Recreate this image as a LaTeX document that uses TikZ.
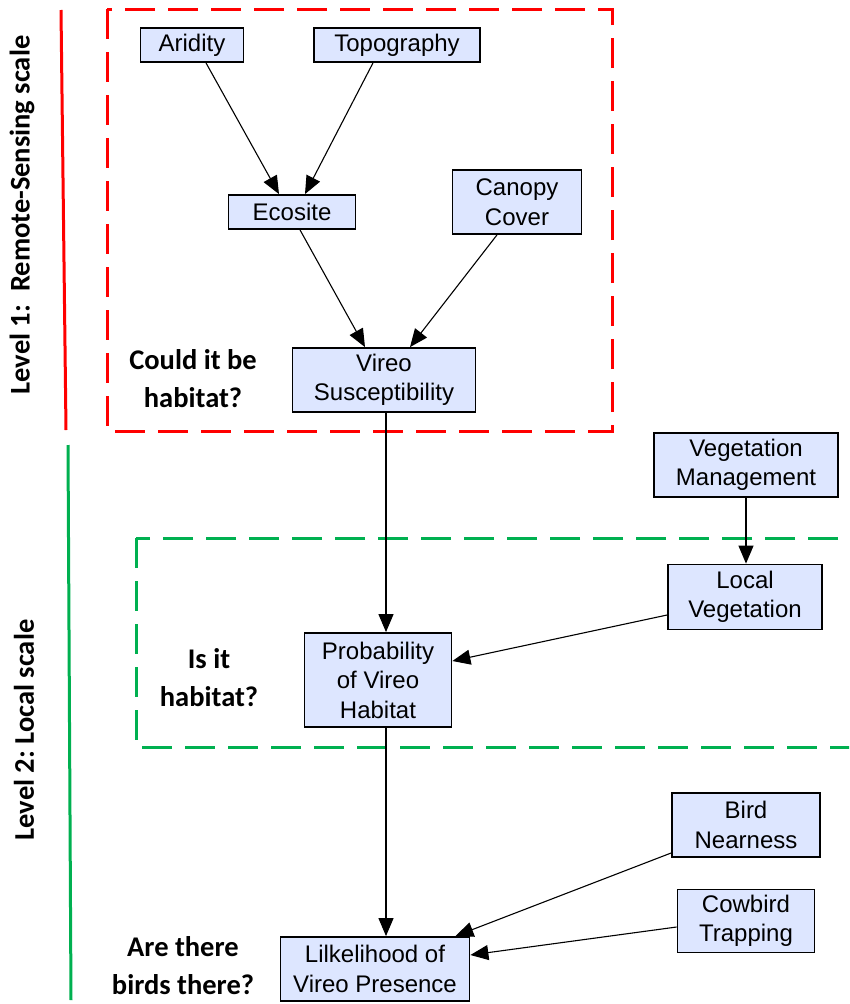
\documentclass[tikz,border=0pt]{standalone}
\usepackage{fontspec}
\setmainfont{Liberation Sans}
\newfontfamily\labelfont{Carlito}
\usepackage{tikz}
\usetikzlibrary{arrows.meta}
\definecolor{boxfill}{RGB}{221,230,255}
\definecolor{levelred}{RGB}{255,0,0}
\definecolor{levelgreen}{RGB}{0,176,80}
\tikzset{
  % Stile per i nodi della rete
  box/.style 2 args={
    draw, line width=1.8pt, fill=boxfill,
    minimum width=#1, minimum height=#2, inner sep=0pt,
    align=center, font=\fontsize{24}{29.5}\selectfont
  },
  % Stile per le frecce
  link/.style={line width=1.1pt, -{Triangle[length=18pt,width=15pt]}},
  % Domande e livelli
  question/.style={align=center, font=\labelfont\bfseries\fontsize{28.5}{38}\selectfont},
  level/.style={rotate=90, font=\labelfont\bfseries\fontsize{28.5}{34}\selectfont},
  levelbox/.style={line width=3pt, dash pattern=on 30pt off 13pt}
}

\begin{document}
\begin{tikzpicture}[x=1pt, y=-1pt]
  \useasboundingbox (0,0) rectangle (849,1004);

  % livelli
  \draw[levelred, line width=3pt] (61,10) -- (66,430);
  \draw[levelgreen, line width=3pt] (68,445) -- (71,1000);
  \node[level] (lev1) at (22,215) {Level 1:\ \ Remote-Sensing scale};
  \node[level] (lev2) at (24,730) {Level 2:\ Local scale};

  \draw[levelbox, levelred] (107,9) rectangle (612,431);
  \begin{scope}
    \clip (0,0) rectangle (849,1004);
    \draw[levelbox, levelgreen] (136,538) rectangle (880,747);
  \end{scope}

  % nodi
  \node[box={103pt}{34pt}] (arid) at (192,45) {Aridity};
  \node[box={166pt}{34pt}] (topo) at (397,45) {Topography};
  \node[box={127pt}{34pt}] (eco) at (292,212) {Ecosite};
  \node[box={129pt}{64pt}] (canopy) at (517,202) {Canopy\\Cover};
  \node[box={183pt}{64pt}] (susc) at (384,380) {Vireo\\Susceptibility};
  \node[box={184pt}{64pt}] (vegmgmt) at (746,465) {Vegetation\\Management};
  \node[box={154pt}{65pt}] (localveg) at (745,597) {Local\\Vegetation};
  \node[box={147pt}{94pt}] (prob) at (378,680) {Probability\\of Vireo\\Habitat};
  \node[box={148pt}{64pt}] (bird) at (746,825) {Bird\\Nearness};
  \node[box={137pt}{63pt}] (cowbird) at (746,921) {Cowbird\\Trapping};
  \node[box={189pt}{64pt}] (likely) at (375,969) {Lilkelihood of\\Vireo Presence};

  % domande
  \node[question] (q1) at (193,379) {Could it be\\habitat?};
  \node[question] (q2) at (209,678) {Is it\\habitat?};
  \node[question] (q3) at (183,966) {Are there\\birds there?};

  % frecce
  \draw[link] ([xshift=14pt]arid.south) -- ([xshift=-13pt]eco.north);
  \draw[link] ([xshift=-24pt]topo.south) -- ([xshift=13pt]eco.north);
  \draw[link] ([xshift=8pt]eco.south) -- ([xshift=-19pt]susc.north);
  \draw[link] ([xshift=-20pt]canopy.south) -- ([xshift=26pt]susc.north);
  \draw[link] ([xshift=2pt]susc.south) -- ([xshift=8pt]prob.north);
  \draw[link] (vegmgmt.south) -- (vegmgmt.south |- localveg.north);
  \draw[link] ([yshift=-18pt]localveg.west) -- ([yshift=19pt]prob.east);
  \draw[link] ([xshift=8pt]prob.south) -- ([xshift=11pt]likely.north);
  \draw[link] ([yshift=-28pt]bird.west) -- ([xshift=-15pt]likely.north east);
  \draw[link] ([yshift=-6pt]cowbird.west) -- ([yshift=14pt]likely.east);
\end{tikzpicture}
\end{document}
